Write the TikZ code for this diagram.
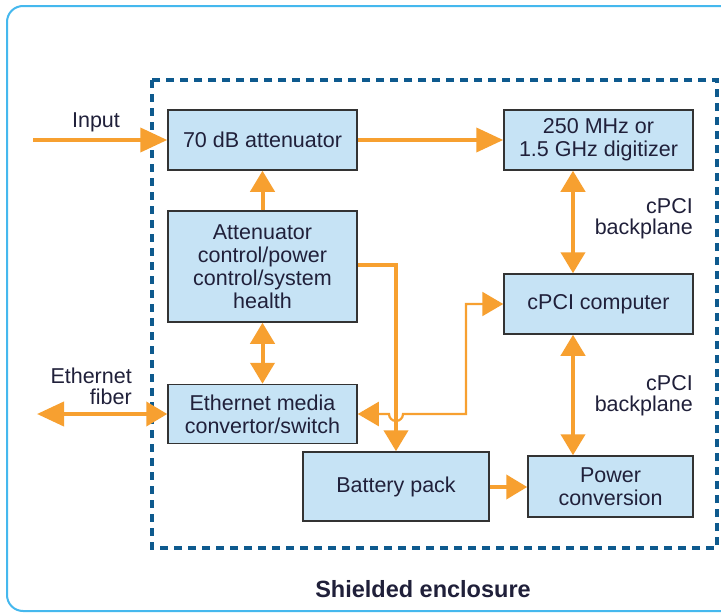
\documentclass[tikz,border=0pt]{standalone}
\usepackage{fontspec}
\setmainfont{Liberation Sans}
\usetikzlibrary{arrows.meta,calc}
\definecolor{orng}{HTML}{F7A030}
\definecolor{boxfill}{HTML}{C6E3F5}
\definecolor{framec}{HTML}{45B8EE}
\definecolor{enclc}{HTML}{0E5A8E}
\definecolor{txt}{HTML}{20203A}
\tikzset{
  blk/.style={draw=black!80, line width=1.5pt, fill=boxfill, align=center, text=txt,
    font=\fontsize{21.5}{23}\selectfont, inner sep=0pt},
  conn/.style={draw=orng, line width=4pt},
  thinconn/.style={draw=orng, line width=2.2pt},
  htip/.tip={Triangle[length=27pt,width=24pt]},
  vtip/.tip={Triangle[length=21pt,width=24pt]},
  lbl/.style={text=txt, align=right, font=\fontsize{21.5}{21}\selectfont, inner sep=0pt}
}
\begin{document}
\begin{tikzpicture}[x=1pt,y=-1pt]
\useasboundingbox (0,0) rectangle (721,613);
\clip (0,0) rectangle (721,613);
\fill[white] (0,0) rectangle (721,613);
% outer frame (open to the right)
\draw[framec, line width=2pt, rounded corners=16pt] (900,6) -- (7,6) -- (7,611) -- (900,611);
% shielded enclosure
\draw[enclc, line width=4.5pt, dash pattern=on 8pt off 6pt] (152,80) rectangle (717,548);
% blocks
\node[blk, minimum width=189pt, minimum height=60pt] (att) at (262.5,140) {70 dB attenuator};
\node[blk, minimum width=189pt, minimum height=111pt] (ctrl) at (262.5,266.5) {Attenuator\\control/power\\control/system\\health};
\node[blk, minimum width=189pt, minimum height=60pt] (dig) at (598.5,140) {250 MHz or\\1.5 GHz digitizer};
\node[blk, minimum width=189pt, minimum height=60pt] (cpu) at (598.5,304) {cPCI computer};
\node[blk, minimum width=189pt, minimum height=59pt] (eth) at (262.5,414) {Ethernet media\\convertor/switch};
\node[blk, minimum width=186pt, minimum height=69pt] (bat) at (396,486.5) {Battery pack};
\node[blk, minimum width=165pt, minimum height=61pt] (pwr) at (610.5,486.5) {Power\\conversion};
% free ends
\coordinate (inp) at (33,140);
\coordinate (fib) at (37,414);
\coordinate (bus) at (573,0);
\coordinate (jog) at (466,0);
% labels
\node[lbl, anchor=base] (inlbl) at (96,127) {Input};
\node[lbl, anchor=north east] (fiblbl) at (132,368) {Ethernet\\fiber};
\node[lbl, anchor=north east] (bp1) at (693,198) {cPCI\\backplane};
\node[lbl, anchor=north east] (bp2) at (693,375) {cPCI\\backplane};
\node[text=txt, font=\fontsize{23.5}{24}\selectfont\bfseries, inner sep=0pt] (shl) at (423,589) {Shielded enclosure};
% connectors
\draw[conn, -htip] (inp) -- (att.west);
\draw[conn, -htip] (att.east) -- (dig.west);
\draw[conn, -vtip] (ctrl.north) -- (att.south);
\draw[conn, vtip-vtip] (ctrl.south) -- (eth.north);
\draw[conn, htip-vtip] (fib) -- (eth.west);
\draw[conn, -vtip] (ctrl.east |- 0,265) -- (bat.north |- 0,265) -- (bat.north);
\draw[thinconn, vtip-vtip] (cpu.west) -- (jog |- cpu.west) -- (jog |- eth.east) -- (403,414) arc[start angle=0, end angle=-180, radius=7pt] -- (eth.east);
\draw[conn, vtip-vtip] (dig.south -| bus) -- (cpu.north -| bus);
\draw[conn, vtip-vtip] (cpu.south -| bus) -- (pwr.north -| bus);
\draw[conn, -vtip] (bat.east |- 0,487) -- (pwr.west |- 0,487);
\end{tikzpicture}
\end{document}
